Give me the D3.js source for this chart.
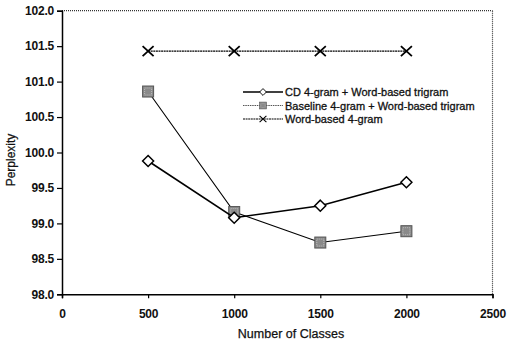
<!DOCTYPE html>
<html><head><meta charset="utf-8">
<script src="https://cdn.jsdelivr.net/npm/d3@7"></script>
<style>
body{margin:0;background:#fff;}
svg{display:block;font-family:"Liberation Sans",Arial,sans-serif;}
</style></head>
<body><svg id="c" width="509" height="341"></svg>
<script>
const classes = [500, 1000, 1500, 2000];
const cdValues = [99.88, 99.08, 99.25, 99.58];
const baselineValues = [100.86, 99.16, 98.73, 98.89];
const wordValues = [101.43, 101.43, 101.43, 101.43];
const seriesNames = ["CD 4-gram + Word-based trigram", "Baseline 4-gram + Word-based trigram", "Word-based 4-gram"];
const xTicks = [0, 500, 1000, 1500, 2000, 2500];
const yTicks = [98.0, 98.5, 99.0, 99.5, 100.0, 100.5, 101.0, 101.5, 102.0];

const svg = d3.select("#c");
const L = 62, R = 492.5, T = 10.7, B = 294.3;
const x = d3.scaleLinear().domain([0, 2500]).range([L, R]);
const y = d3.scaleLinear().domain([98, 102]).range([B, T]);

// frame (top & right dotted)
svg.append("line").attr("x1", L).attr("x2", R).attr("y1", T).attr("y2", T)
  .attr("stroke", "#333").attr("stroke-width", 1.2).attr("stroke-dasharray", "1,1");
svg.append("line").attr("x1", R).attr("x2", R).attr("y1", T).attr("y2", B)
  .attr("stroke", "#333").attr("stroke-width", 1.2).attr("stroke-dasharray", "1,1");

const yAxis = svg.append("g").attr("transform", `translate(${L},0)`)
  .call(d3.axisLeft(y).tickValues(yTicks).tickFormat(d3.format(".1f")).tickSize(5).tickPadding(3));
const xAxis = svg.append("g").attr("transform", `translate(0,${B})`)
  .call(d3.axisBottom(x).tickValues(xTicks).tickFormat(d3.format("d")).tickSize(4).tickPadding(11));
[yAxis, xAxis].forEach(g => {
  g.select(".domain").attr("stroke", "#000").attr("stroke-width", 1.5);
  g.selectAll(".tick line").attr("stroke", "#000").attr("stroke-width", 1.2);
  g.selectAll("text").attr("fill", "#111").style("font-size", "12px").style("font-weight", "bold").style("letter-spacing", "-0.2px");
});

svg.append("text").attr("x", 291).attr("y", 338).attr("text-anchor", "middle")
  .style("font-size", "12.5px").attr("fill", "#111").attr("stroke", "#111").attr("stroke-width", 0.25).text("Number of Classes");
svg.append("text").attr("transform", "translate(15,160) rotate(-90)").attr("text-anchor", "middle")
  .style("font-size", "12px").attr("fill", "#111").attr("stroke", "#111").attr("stroke-width", 0.25).text("Perplexity");

const line = d3.line().x(d => x(d[0])).y(d => y(d[1]));
const series = [
  {vals: wordValues, marker: "x", w: 1.1, dash: "2,0.6"},
  {vals: baselineValues, marker: "square", w: 1.1, dash: null},
  {vals: cdValues, marker: "diamond", w: 1.6, dash: null}
];

function drawMarker(g, type, cx, cy) {
  if (type === "diamond") {
    g.append("path").attr("d", `M${cx},${cy-5.5}L${cx+5.5},${cy}L${cx},${cy+5.5}L${cx-5.5},${cy}Z`)
      .attr("fill", "#fff").attr("stroke", "#000").attr("stroke-width", 1.5);
  } else if (type === "square") {
    g.append("rect").attr("x", cx-5.5).attr("y", cy-5.5).attr("width", 11).attr("height", 11)
      .attr("fill", "#8a8a8a").attr("stroke", "#555").attr("stroke-width", 1);
    g.append("rect").attr("x", cx-3.5).attr("y", cy-3.5).attr("width", 7).attr("height", 7)
      .attr("fill", "none").attr("stroke", "#bbb").attr("stroke-width", 1).attr("stroke-dasharray", "1,1");
  } else {
    g.append("path").attr("d", `M${cx-5.5},${cy-5}L${cx+5.5},${cy+5}M${cx-5.5},${cy+5}L${cx+5.5},${cy-5}`)
      .attr("stroke", "#000").attr("stroke-width", 1.8);
  }
}

series.forEach(s => {
  const data = classes.map((c, i) => [c, s.vals[i]]);
  svg.append("path").datum(data).attr("d", line).attr("fill", "none")
    .attr("stroke", "#000").attr("stroke-width", s.w).attr("stroke-dasharray", s.dash);
  const g = svg.append("g");
  data.forEach(d => drawMarker(g, s.marker, x(d[0]), y(d[1])));
});

// legend
const legendMarkers = ["diamond", "square", "x"];
const legendDash = [null, "1.5,0.8", "2,0.6"];
const legendW = [1.6, 1.1, 1.1];
const legY = d3.scalePoint().domain(seriesNames).range([92, 119]);
seriesNames.forEach((n, i) => {
  const yy = legY(n);
  svg.append("line").attr("x1", 243).attr("x2", 283).attr("y1", yy).attr("y2", yy)
    .attr("stroke", i === 1 ? "#555" : "#000").attr("stroke-width", legendW[i]).attr("stroke-dasharray", legendDash[i]);
  const g = svg.append("g").attr("transform", `translate(263,${yy}) scale(0.62) translate(-263,${-yy})`);
  drawMarker(g, legendMarkers[i], 263, yy);
  svg.append("text").attr("x", 285).attr("y", yy + 4).style("font-size", "11px")
    .attr("fill", "#111").attr("stroke", "#111").attr("stroke-width", 0.3).text(n);
});
</script></body></html>
